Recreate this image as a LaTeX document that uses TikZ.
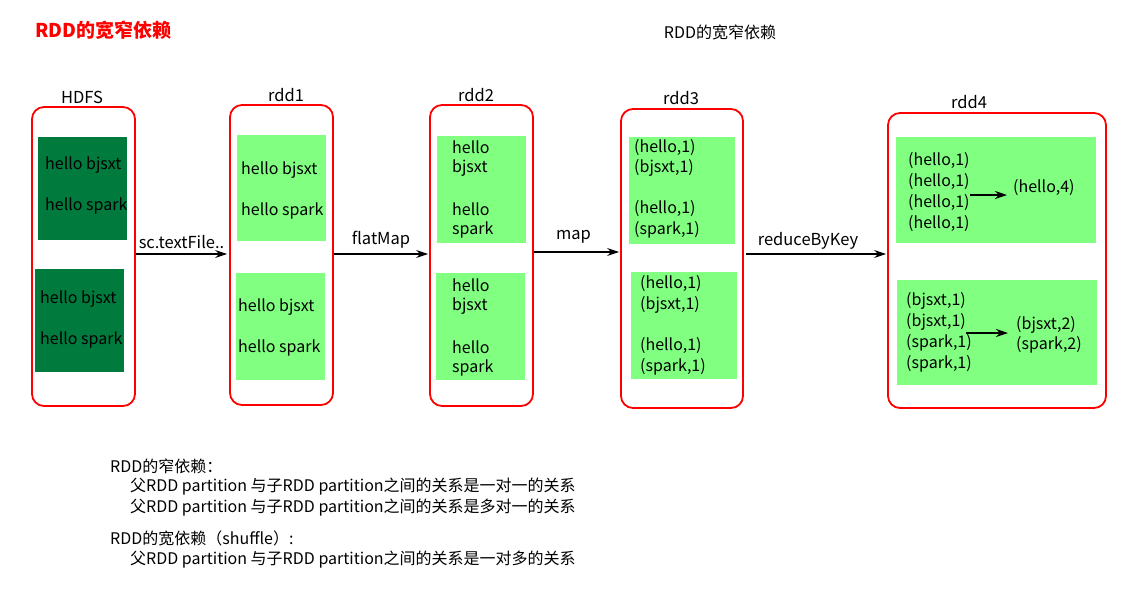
\documentclass[tikz,border=0pt]{standalone}
\usepackage{fontspec}
\setmainfont{Noto Sans CJK SC}
\usetikzlibrary{arrows.meta}
\definecolor{boxred}{RGB}{255,0,0}
\definecolor{darkgr}{RGB}{0,122,61}
\definecolor{lightgr}{RGB}{128,255,128}
\tikzset{
  outerbox/.style={draw=boxred, line width=1.8pt, rounded corners=12pt, inner sep=0pt},
  darkpart/.style={fill=darkgr, inner sep=0pt},
  lightpart/.style={fill=lightgr, inner sep=0pt},
  txt/.style={font=\fontsize{16}{19}\selectfont, inner sep=0pt, anchor=west},
  lbl/.style={font=\fontsize{16.5}{19}\selectfont, inner sep=0pt},
  note/.style={font=\fontsize{16}{19}\selectfont, inner sep=0pt, anchor=west},
  flow/.style={line width=1.5pt, -{Stealth[length=12pt,width=8pt]}},
}
\newcommand{\boxat}[6]{\node[#1, minimum width=#4-#2, minimum height=#5-#3] (#6) at ({(#2+#4)/2},{(#3+#5)/2}) {};}
\begin{document}
\begin{tikzpicture}[x=1pt,y=-1pt]
\useasboundingbox[fill=white] (0,0) rectangle (1126,611);
% titles
\node[inner sep=0pt, anchor=west, text=boxred, font=\fontsize{19}{22}\selectfont\bfseries] (title) at (35,30) {RDD的宽窄依赖};
\node[inner sep=0pt, font=\fontsize{16}{19}\selectfont] (title2) at (720,32) {RDD的宽窄依赖};
% outer boxes
\boxat{outerbox}{32}{107}{135}{406}{hdfs}
\boxat{outerbox}{230}{105}{333}{405}{rddone}
\boxat{outerbox}{430}{105}{533}{406}{rddtwo}
\boxat{outerbox}{621}{109}{743}{408}{rddthree}
\boxat{outerbox}{888}{113}{1106}{408}{rddfour}
% labels
\node[lbl] (lhdfs) at (82,97) {HDFS};
\node[lbl] (lone) at (286,95) {rdd1};
\node[lbl] (ltwo) at (476,95) {rdd2};
\node[lbl] (lthree) at (681,98) {rdd3};
\node[lbl] (lfour) at (969,102) {rdd4};
% HDFS partitions
\boxat{darkpart}{38}{137}{127}{240}{ha}
\boxat{darkpart}{35}{269}{124}{372}{hb}
\node[txt] (ha1) at (45,165) {hello bjsxt};
\node[txt] (ha2) at (45,206) {hello spark};
\node[txt] (hb1) at (40,299) {hello bjsxt};
\node[txt] (hb2) at (40,340) {hello spark};
% rdd1 partitions
\boxat{lightpart}{237}{135}{326}{241}{oa}
\boxat{lightpart}{236}{273}{325}{380}{ob}
\node[txt] (oa1) at (241,170) {hello bjsxt};
\node[txt] (oa2) at (241,211) {hello spark};
\node[txt] (ob1) at (238,307) {hello bjsxt};
\node[txt] (ob2) at (238,348) {hello spark};
% rdd2 partitions
\boxat{lightpart}{437}{136}{526}{243}{ta}
\boxat{lightpart}{436}{273}{525}{380}{tb}
\node[txt] (ta1) at (452,147) {hello};
\node[txt] (ta2) at (452,168) {bjsxt};
\node[txt] (ta3) at (452,209) {hello};
\node[txt] (ta4) at (452,230) {spark};
\node[txt] (tb1) at (452,285) {hello};
\node[txt] (tb2) at (452,306) {bjsxt};
\node[txt] (tb3) at (452,347) {hello};
\node[txt] (tb4) at (452,368) {spark};
% rdd3 partitions
\boxat{lightpart}{629}{137}{735}{244}{ra}
\boxat{lightpart}{631}{272}{737}{379}{rb}
\node[txt] (ra1) at (634,148) {(hello,1)};
\node[txt] (ra2) at (634,168) {(bjsxt,1)};
\node[txt] (ra3) at (634,209) {(hello,1)};
\node[txt] (ra4) at (634,230) {(spark,1)};
\node[txt] (rb1) at (640,284) {(hello,1)};
\node[txt] (rb2) at (640,305) {(bjsxt,1)};
\node[txt] (rb3) at (640,346) {(hello,1)};
\node[txt] (rb4) at (640,367) {(spark,1)};
% rdd4 partitions
\boxat{lightpart}{896}{137}{1096}{243}{fa}
\boxat{lightpart}{897}{280}{1097}{385}{fb}
\node[txt] (fa1) at (908,161) {(hello,1)};
\node[txt] (fa2) at (908,182) {(hello,1)};
\node[txt] (fa3) at (908,203) {(hello,1)};
\node[txt] (fa4) at (908,224) {(hello,1)};
\node[txt] (fares) at (1013,188) {(hello,4)};
\node[txt] (fb1) at (906,301) {(bjsxt,1)};
\node[txt] (fb2) at (906,322) {(bjsxt,1)};
\node[txt] (fb3) at (906,343) {(spark,1)};
\node[txt] (fb4) at (906,364) {(spark,1)};
\node[txt] (fbres1) at (1016,325) {(bjsxt,2)};
\node[txt] (fbres2) at (1016,345) {(spark,2)};
\coordinate (faa) at (970,195);
\coordinate (fab) at (1007,195);
\coordinate (fba) at (966,333);
\coordinate (fbb) at (1008,333);
\draw[flow] (faa) -- (fab);
\draw[flow] (fba) -- (fbb);
% flow arrows
\draw[flow] (hdfs.east |- 0,254) -- node[lbl, above=5pt] (e1) {sc.textFile..} ([xshift=-2pt]rddone.west |- 0,254);
\draw[flow] (rddone.east |- 0,254) -- node[lbl, above=5pt] (e2) {flatMap} ([xshift=-1pt]rddtwo.west |- 0,254);
\draw[flow] (rddtwo.east |- 0,252) -- node[lbl, above=8pt, xshift=-3pt] (e3) {map} ([xshift=-1pt]rddthree.west |- 0,252);
\draw[flow] ([xshift=2pt]rddthree.east |- 0,254) -- node[lbl, above=4pt, xshift=-8pt] (e4) {reduceByKey} ([xshift=-1pt]rddfour.west |- 0,254);
% notes
\node[note] (n1) at (110,466) {RDD的窄依赖：};
\node[note] (n2) at (130,487) {父RDD partition 与子RDD partition之间的关系是一对一的关系};
\node[note] (n3) at (130,508) {父RDD partition 与子RDD partition之间的关系是多对一的关系};
\node[note] (n4) at (110,538) {RDD的宽依赖（shuffle）:};
\node[note] (n5) at (130,560) {父RDD partition 与子RDD partition之间的关系是一对多的关系};
\end{tikzpicture}
\end{document}
